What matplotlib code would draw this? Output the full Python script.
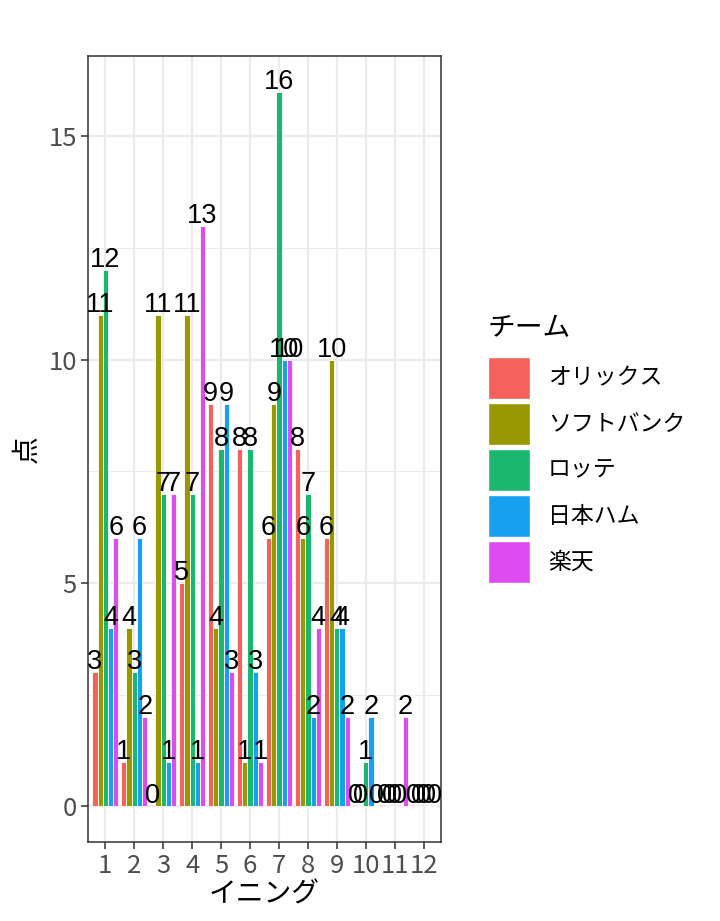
import matplotlib
matplotlib.use("Agg")
import matplotlib.pyplot as plt
from matplotlib.patches import Rectangle
import numpy as np

innings = ["1", "2", "3", "4", "5", "6", "7", "8", "9", "10", "11", "12"]
teams = ["オリックス", "ソフトバンク", "ロッテ", "日本ハム", "楽天"]
orix     = [3, 1, 0, 5, 9, 8, 6, 8, 6, 0, 0, 0]
softbank = [11, 4, 11, 11, 4, 1, 9, 6, 10, 0, 0, 0]
lotte    = [12, 3, 7, 7, 8, 8, 16, 7, 4, 1, 0, 0]
nippon   = [4, 6, 1, 1, 9, 3, 10, 2, 4, 2, 0, 0]
rakuten  = [6, 2, 7, 13, 3, 1, 10, 4, 2, 0, 2, 0]
series = [orix, softbank, lotte, nippon, rakuten]
colors = ["#F5625C", "#999800", "#1CB76E", "#15A1EF", "#DD4CEF"]

JP = ["Noto Sans CJK JP", "DejaVu Sans"]
plt.rcParams['font.family'] = JP

W, H = 720, 921
fig = plt.figure(figsize=(W/100, H/100), dpi=100)
ax = fig.add_axes([88/W, 1-842/H, (441-88)/W, (842-56)/H])

x = np.arange(1, len(innings)+1)
n = len(teams)
bw = 0.9 / n
for i, (vals, c) in enumerate(zip(series, colors)):
    xs = x - 0.45 + bw*(i+0.5)
    ax.bar(xs, vals, width=bw, color=c, edgecolor="white", linewidth=0.6, zorder=3)
    for xi, v in zip(xs, vals):
        ax.annotate(str(v), (xi, v), xytext=(0, 2.2), textcoords="offset points",
                    ha="center", va="baseline", fontsize=19.5,
                    family=["Liberation Sans", "DejaVu Sans"], color="black", zorder=5)

ax.set_xlim(0.4, 12.6)
ax.set_ylim(-0.8, 16.8)
ax.set_xticks(x)
ax.set_xticklabels(innings)
ax.set_yticks([0, 5, 10, 15])
ax.set_yticks([2.5, 7.5, 12.5], minor=True)
ax.grid(which="major", color="#EBEBEB", linewidth=1.6, zorder=0)
ax.grid(which="minor", axis="y", color="#EBEBEB", linewidth=0.8, zorder=0)
ax.set_axisbelow(True)
for s in ax.spines.values():
    s.set_color("#333333")
    s.set_linewidth(1.1)
ax.tick_params(which="major", length=5, width=1.1, color="#333333",
               labelsize=18.5, labelcolor="#4D4D4D", pad=3)
ax.tick_params(which="minor", length=0)
ax.set_xlabel("イニング", fontsize=20, color="black", labelpad=0)
ax.set_ylabel("点", fontsize=20, color="black", labelpad=5)

# legend
fig.text(488/W, 1-328/H, "チーム", fontsize=20, ha="left", va="center")
key_w, key_h, step = 42, 42, 46
y0 = 357
for i, (t, c) in enumerate(zip(teams, colors)):
    top = y0 + i*step
    fig.patches.append(Rectangle((488/W, 1-(top+key_h)/H), key_w/W, key_h/H,
                                 transform=fig.transFigure, facecolor=c,
                                 edgecolor="white", linewidth=1.0))
    fig.text(548/W, 1-(top+key_h/2)/H, t, fontsize=16.5, ha="left", va="center")

fig.savefig("out.png", dpi=100, facecolor="white")
